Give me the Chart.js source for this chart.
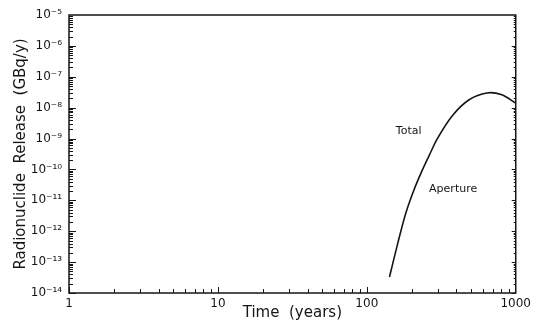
<!DOCTYPE html>
<html>
<head>
<meta charset="utf-8">
<script src="https://cdn.jsdelivr.net/npm/chart.js@4/dist/chart.umd.min.js"></script>
<style>
  html, body { margin: 0; padding: 0; background: #fff; }
  #wrap { width: 535px; height: 327px; }
</style>
</head>
<body>
<div id="wrap"><canvas id="releaseChart" width="535" height="327"></canvas></div>
<script>
"use strict";

// curve (years, GBq/y)
const TIME_YEARS = [142, 161, 182, 206, 233, 263, 297, 374, 486, 641, 807, 1000];
const RELEASE    = [3.3e-14, 3.9e-13, 3.6e-12, 2.0e-11, 8.3e-11, 2.9e-10, 9.8e-10, 5.4e-9, 1.8e-8, 3.0e-8, 2.6e-8, 1.4e-8];

const X_TICKS = [1, 10, 100, 1000];
const Y_TICKS = [1e-14, 1e-13, 1e-12, 1e-11, 1e-10, 1e-9, 1e-8, 1e-7, 1e-6, 1e-5];

// text labels inside the plot, placed in data units
const NOTE_TEXT = ["Total", "Aperture"];
const NOTE_X    = [191, 380];
const NOTE_Y    = [1.8e-9, 2.3e-11];

const INK = "#151515";
const FONT = "'DejaVu Sans', sans-serif";
const SUP = { "-": "\u207B", "0": "\u2070", "1": "\u00B9", "2": "\u00B2", "3": "\u00B3", "4": "\u2074",
              "5": "\u2075", "6": "\u2076", "7": "\u2077", "8": "\u2078", "9": "\u2079" };

function powLabel(v) {
  const e = Math.round(Math.log10(v));
  return "10" + String(e).split("").map(c => SUP[c]).join("");
}

// box round the plot + inward minor ticks (positions from the chart's scales)
const frameTicks = {
  id: "frameTicks",
  afterDraw(chart) {
    const { ctx, chartArea: a, scales: { x, y } } = chart;
    ctx.save();
    ctx.strokeStyle = INK;
    ctx.lineWidth = 1.5;
    ctx.strokeRect(a.left, a.top, a.right - a.left, a.bottom - a.top);
    ctx.lineWidth = 1;
    ctx.beginPath();
    for (let i = 0; i < Y_TICKS.length - 1; i++) {
      for (let m = 1; m <= 9; m++) {
        const py = Math.round(y.getPixelForValue(m * Y_TICKS[i])) + 0.5;
        const len = m === 1 ? 7 : 4;
        ctx.moveTo(a.left, py); ctx.lineTo(a.left + len, py);
        ctx.moveTo(a.right, py); ctx.lineTo(a.right - (m === 1 ? 4 : 2), py);
      }
    }
    for (let i = 0; i < X_TICKS.length - 1; i++) {
      for (let m = 1; m <= 9; m++) {
        const px = Math.round(x.getPixelForValue(m * X_TICKS[i])) + 0.5;
        const len = m === 1 ? 6 : 4;
        ctx.moveTo(px, a.bottom); ctx.lineTo(px, a.bottom - len);
      }
    }
    ctx.stroke();
    ctx.restore();
  },
  afterDatasetsDraw(chart) {
    const { ctx, scales: { x, y } } = chart;
    ctx.save();
    ctx.fillStyle = INK;
    ctx.font = "11px " + FONT;
    ctx.textAlign = "center";
    ctx.textBaseline = "middle";
    NOTE_TEXT.forEach((t, i) => {
      ctx.fillText(t, x.getPixelForValue(NOTE_X[i]), y.getPixelForValue(NOTE_Y[i]));
    });
    ctx.restore();
  }
};

new Chart(document.getElementById("releaseChart"), {
  type: "line",
  data: {
    datasets: [{
      data: TIME_YEARS.map((t, i) => ({ x: t, y: RELEASE[i] })),
      borderColor: INK,
      borderWidth: 1.6,
      pointRadius: 0,
      tension: 0.3,
      fill: false
    }]
  },
  options: {
    responsive: false,
    animation: false,
    layout: { padding: { top: 15, right: 17, left: 0, bottom: 0 } },
    plugins: { legend: { display: false }, tooltip: { enabled: false } },
    scales: {
      x: {
        type: "logarithmic",
        min: 1, max: 1000,
        afterBuildTicks: s => { s.ticks = X_TICKS.map(v => ({ value: v })); },
        afterFit: s => { s.height = 34; },
        grid: { display: false, drawTicks: false },
        border: { display: false },
        ticks: { autoSkip: false, maxRotation: 0, padding: 4, color: INK,
                 font: { family: FONT, size: 12 }, callback: v => String(v) },
        title: { display: true, text: "Time  (years)", color: INK,
                 font: { family: FONT, size: 15 }, padding: { top: 0, bottom: 5 } }
      },
      y: {
        type: "logarithmic",
        min: 1e-14, max: 1e-5,
        afterBuildTicks: s => { s.ticks = Y_TICKS.map(v => ({ value: v })); },
        afterFit: s => { s.width = 69; },
        grid: { display: false, drawTicks: false },
        border: { display: false },
        ticks: { autoSkip: false, padding: 7, color: INK,
                 font: { family: FONT, size: 12 }, callback: v => powLabel(v) },
        title: { display: true, text: "Radionuclide  Release  (GBq/y)", color: INK,
                 font: { family: FONT, size: 15 }, padding: { top: 12, bottom: 0 } }
      }
    }
  },
  plugins: [frameTicks]
});
</script>
</body>
</html>
